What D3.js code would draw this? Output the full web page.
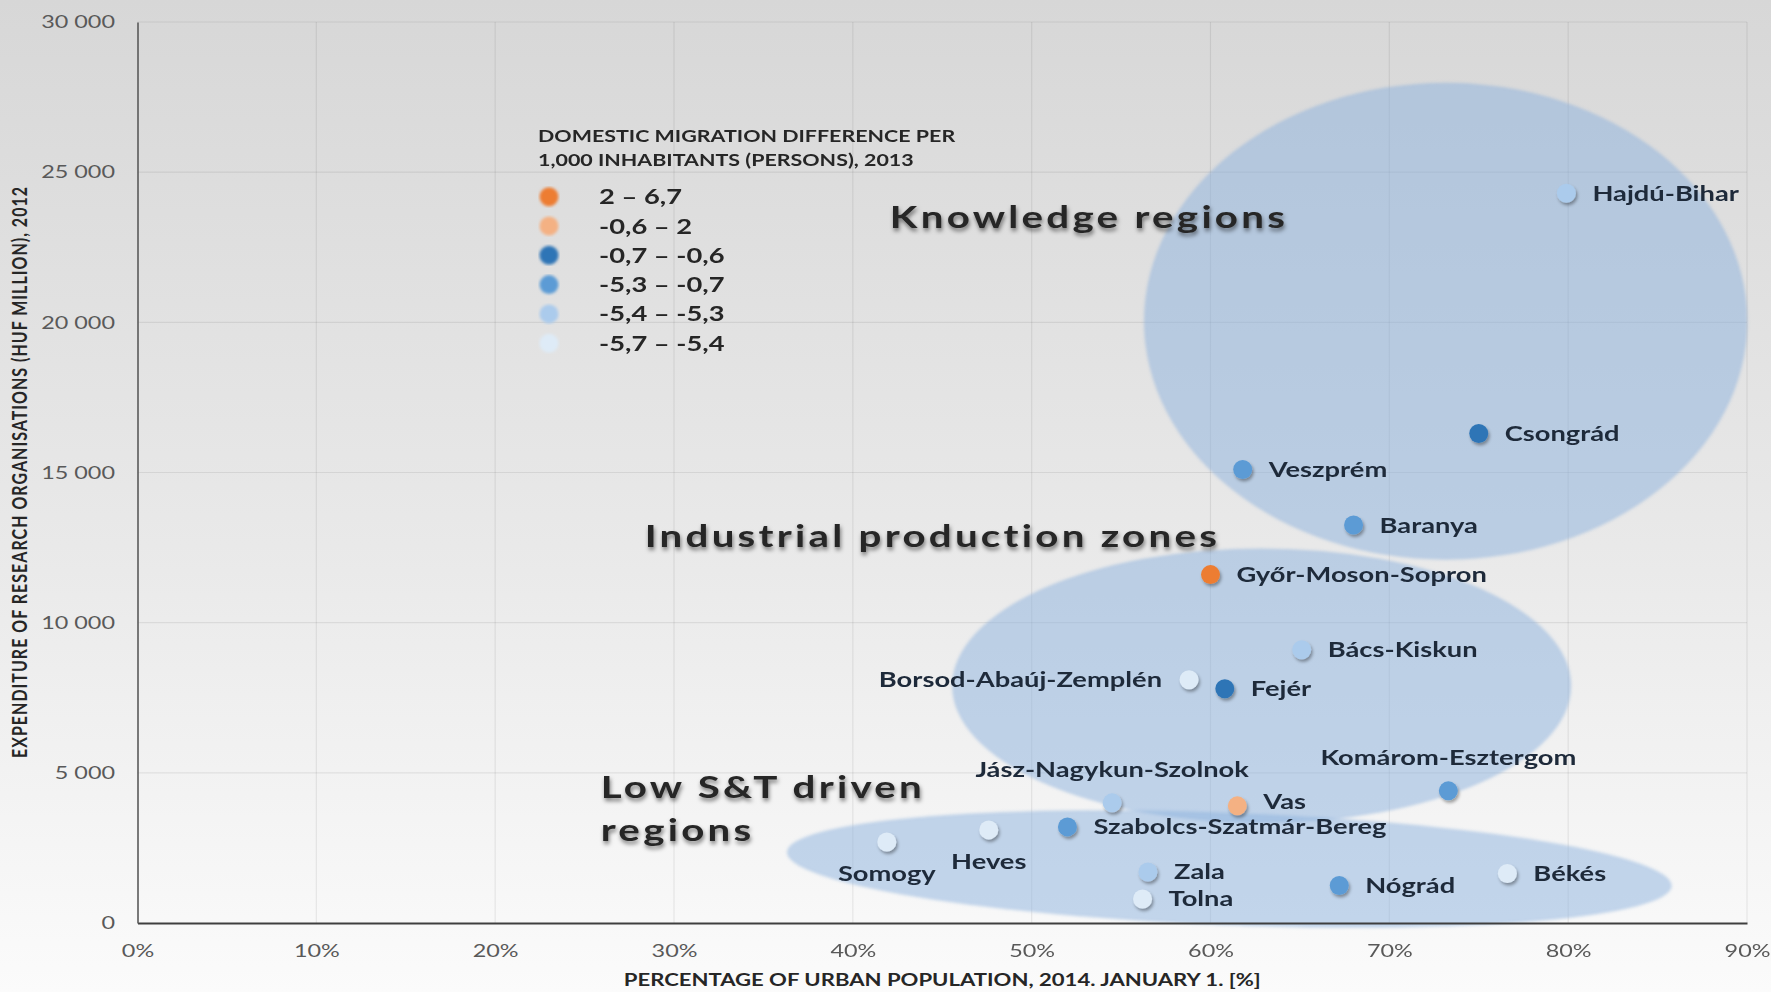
<!DOCTYPE html>
<html><head><meta charset="utf-8">
<script src="https://cdn.jsdelivr.net/npm/d3@7"></script>
<style>html,body{margin:0;padding:0;overflow:hidden;background:#fff}svg{display:block}</style>
</head><body><svg id="c" width="1771" height="992"></svg>
<script>
// ---------------- data ----------------
const counties = ["Hajdú-Bihar","Csongrád","Veszprém","Baranya","Győr-Moson-Sopron","Bács-Kiskun","Borsod-Abaúj-Zemplén","Fejér","Komárom-Esztergom","Jász-Nagykun-Szolnok","Vas","Szabolcs-Szatmár-Bereg","Heves","Somogy","Zala","Tolna","Nógrád","Békés"];
const urbanShare = [0.799,0.750,0.618,0.680,0.600,0.651,0.588,0.608,0.733,0.545,0.615,0.520,0.476,0.419,0.565,0.562,0.672,0.766];
const researchSpending = [24300,16300,15100,13250,11600,9100,8100,7800,4400,4000,3900,3200,3100,2700,1700,800,1250,1650];
const migrationClass = [4,2,3,3,0,4,5,2,3,4,1,3,5,5,4,5,3,5];
const classLabels = ["2 – 6,7","-0,6 – 2","-0,7 – -0,6","-5,3 – -0,7","-5,4 – -5,3","-5,7 – -5,4"];
const xTicks = [0,0.1,0.2,0.3,0.4,0.5,0.6,0.7,0.8,0.9];
const yTicks = [0,5000,10000,15000,20000,25000,30000];
const zoneNames = ["Knowledge regions","Industrial production zones","Low S&T driven regions"];
// zone ellipses in data units: centre share, centre spending, half-width share, half-height spending
const zoneCenterShare = [0.7315,0.6286,0.6105];
const zoneCenterSpend = [20037,7903,1798];
const zoneHalfShare = [0.1687,0.1731,0.2475];
const zoneHalfSpend = [7940,4569,1873];
const zoneTilt = [0,0,2.2];
// zone title anchors in data units
const zoneTitleLines = [["Knowledge regions"],["Industrial production zones"],["Low S&T driven","regions"]];
const zoneTitleShare = [0.4207,0.2836,0.259];
const zoneTitleSpend = [[23520],[12884],[4532,3109]];
const xTitle = "PERCENTAGE OF URBAN POPULATION, 2014. JANUARY 1. [%]";
const yTitle = "EXPENDITURE OF RESEARCH ORGANISATIONS (HUF MILLION), 2012";
const legendTitle = ["DOMESTIC MIGRATION DIFFERENCE PER","1,000 INHABITANTS (PERSONS), 2013"];

// ---------------- style ----------------
const classColors = ["#ED7D31","#F4B183","#2E75B6","#5B9BD5","#ABCBEC","#DEEBF7"];
const labelSide = {"Borsod-Abaúj-Zemplén":"left","Komárom-Esztergom":"top","Jász-Nagykun-Szolnok":"top","Heves":"bottom","Somogy":"bottom"};
const labelNudge = {"Vas":-4};
const SX = 1.3; // horizontal stretch of the reference text
const FONT = "Lato, 'Open Sans', sans-serif";

const W = 1771, H = 992;
const svg = d3.select("#c");
const x = d3.scaleLinear().domain([0,0.9]).range([137.5,1747]);
const y = d3.scaleLinear().domain([0,30000]).range([923,22]);

const defs = svg.append("defs");
const bg = defs.append("linearGradient").attr("id","bg").attr("x1",0).attr("y1",0).attr("x2",0).attr("y2",1);
bg.append("stop").attr("offset","0%").attr("stop-color","#d7d7d7");
bg.append("stop").attr("offset","55%").attr("stop-color","#e9e9e9");
bg.append("stop").attr("offset","100%").attr("stop-color","#fbfbfb");
const fs = defs.append("filter").attr("id","ptShadow").attr("x","-60%").attr("y","-60%").attr("width","220%").attr("height","220%");
fs.append("feDropShadow").attr("dx",1.5).attr("dy",2.5).attr("stdDeviation",1.6).attr("flood-color","#000").attr("flood-opacity",0.35);
const ft = defs.append("filter").attr("id","titleShadow").attr("x","-10%").attr("y","-40%").attr("width","120%").attr("height","190%");
ft.append("feDropShadow").attr("dx",1).attr("dy",3).attr("stdDeviation",2.2).attr("flood-color","#000").attr("flood-opacity",0.5);
const fe = defs.append("filter").attr("id","soft").attr("x","-5%").attr("y","-5%").attr("width","110%").attr("height","110%");
fe.append("feGaussianBlur").attr("stdDeviation",1.4);

svg.append("rect").attr("width",W).attr("height",H).attr("fill","url(#bg)");

// grid
const grid = svg.append("g");
grid.selectAll(".vg").data(xTicks.slice(1)).join("line")
  .attr("x1",d=>x(d)).attr("x2",d=>x(d)).attr("y1",y(0)).attr("y2",y(30000))
  .attr("stroke","#000").attr("stroke-opacity",0.075).attr("stroke-width",1.2);
grid.selectAll(".hg").data(yTicks.slice(1)).join("line")
  .attr("x1",x(0)).attr("x2",x(0.9)).attr("y1",d=>y(d)).attr("y2",d=>y(d))
  .attr("stroke","#000").attr("stroke-opacity",0.075).attr("stroke-width",1.2);

// zone ellipses
const zones = zoneNames.map((n,i)=>({n,i}));
svg.append("g").attr("filter","url(#soft)").selectAll("ellipse").data(zones).join("ellipse")
  .attr("cx",d=>x(zoneCenterShare[d.i])).attr("cy",d=>y(zoneCenterSpend[d.i]))
  .attr("rx",d=>x(zoneCenterShare[d.i]+zoneHalfShare[d.i])-x(zoneCenterShare[d.i]))
  .attr("ry",d=>y(0)-y(zoneHalfSpend[d.i]))
  .attr("transform",d=>`rotate(${zoneTilt[d.i]},${x(zoneCenterShare[d.i])},${y(zoneCenterSpend[d.i])})`)
  .attr("fill","rgb(140,178,222)").attr("fill-opacity",0.5);

// axes
const fmt = d3.formatLocale({decimal:",",thousands:" ",grouping:[3],currency:["",""]}).format(",d");
const gx = svg.append("g").attr("transform",`translate(0,${y(0)})`)
  .call(d3.axisBottom(x).tickValues(xTicks).tickFormat(d3.format(".0%")).tickSize(0).tickPadding(0));
gx.select(".domain").attr("stroke","#3f3f3f").attr("stroke-width",2);
gx.selectAll("text").attr("font-family",FONT).attr("font-size",18).attr("fill","#595959")
  .attr("transform",`translate(0,21) scale(${SX},1)`);
const gy = svg.append("g").attr("transform",`translate(${x(0)},0)`)
  .call(d3.axisLeft(y).tickValues(yTicks).tickFormat(fmt).tickSize(0).tickPadding(0));
gy.select(".domain").attr("stroke","#5a5a5a").attr("stroke-width",1.6);
gy.selectAll("text").attr("font-family",FONT).attr("font-size",18).attr("fill","#595959")
  .attr("transform",`translate(-22.5,0) scale(${SX},1)`);

// axis titles
svg.append("text").text(xTitle).attr("font-family",FONT).attr("font-weight",700).attr("font-size",17)
  .attr("fill","#262626").attr("text-anchor","middle")
  .attr("transform",`translate(${(x(0)+x(0.9))/2},${986}) scale(${SX},1)`);
svg.append("text").text(yTitle).attr("font-family",FONT).attr("font-weight",700).attr("font-size",16)
  .attr("fill","#262626").attr("text-anchor","middle")
  .attr("textLength",571).attr("lengthAdjust","spacing")
  .attr("transform",`translate(27,${(y(0)+y(30000))/2}) scale(${SX},1) rotate(-90)`);

// zone titles
const zt = svg.append("g").attr("filter","url(#titleShadow)");
zones.forEach(z=>{
  zoneTitleLines[z.i].forEach((line,j)=>{
    zt.append("text").text(line).attr("font-family",FONT).attr("font-weight",700).attr("font-size",31)
      .attr("letter-spacing",2.5).attr("fill","#262626")
      .attr("transform",`translate(${x(zoneTitleShare[z.i])},${y(zoneTitleSpend[z.i][j])+11}) scale(${SX},1)`);
  });
});

// points
const pts = counties.map((c,i)=>({c,u:urbanShare[i],s:researchSpending[i],k:migrationClass[i]}));
svg.append("g").selectAll("circle").data(pts).join("circle")
  .attr("cx",d=>x(d.u)).attr("cy",d=>y(d.s)).attr("r",9.5)
  .attr("fill",d=>classColors[d.k]).attr("filter","url(#ptShadow)");

// point labels
svg.append("g").selectAll("text").data(pts).join("text")
  .text(d=>d.c).attr("font-family",FONT).attr("font-weight",700).attr("font-size",21).attr("fill","#1e2a3a")
  .attr("text-anchor",d=>{const s=labelSide[d.c]||"right";return s==="right"?"start":s==="left"?"end":"middle";})
  .attr("transform",d=>{
    const s=labelSide[d.c]||"right"; let px=x(d.u), py=y(d.s)+7.5+(labelNudge[d.c]||0);
    if(s==="right") px+=26; else if(s==="left") px-=27; else if(s==="top") py-=33; else py+=32;
    return `translate(${px},${py}) scale(${SX},1)`;
  });

// legend
const lg = svg.append("g");
legendTitle.forEach((t,i)=>{
  lg.append("text").text(t).attr("font-family",FONT).attr("font-weight",700).attr("font-size",16.5).attr("fill","#262626")
    .attr("transform",`translate(538,${141.6+i*24.5}) scale(${SX},1)`);
});
const items = classLabels.map((l,i)=>({l,i}));
lg.selectAll("circle").data(items).join("circle")
  .attr("cx",549).attr("cy",d=>196.7+d.i*29.3).attr("r",9.5).attr("fill",d=>classColors[d.i]).attr("filter","url(#soft)");
lg.selectAll(".li").data(items).join("text").text(d=>d.l)
  .attr("font-family",FONT).attr("font-weight",700).attr("font-size",21).attr("fill","#262626")
  .attr("transform",d=>`translate(599,${196.7+d.i*29.3+7.5}) scale(${SX},1)`);
</script></body></html>
